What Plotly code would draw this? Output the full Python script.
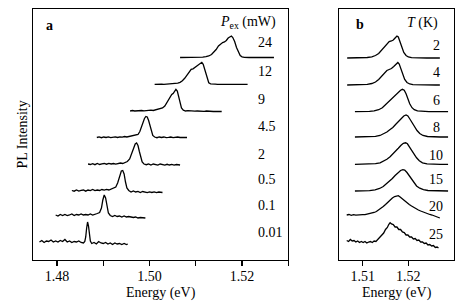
import plotly.graph_objects as go

# ---------------- Panel a: excitation power series ----------------
power_labels = ["24", "12", "9", "4.5", "2", "0.5", "0.1", "0.01"]
power_offsets = [202.5, 175.7, 149.0, 122.5, 95.5, 69.0, 44.0, 17.0]
power_label_y = [217.3, 188.7, 160.7, 133.3, 105.3, 80.3, 54.2, 27.2]

E_p24 = [1.5066, 1.5080, 1.5095, 1.5105, 1.5115, 1.5122, 1.5128, 1.5134, 1.5139, 1.5144,
         1.5149, 1.5154, 1.5158, 1.5162, 1.5166, 1.5170, 1.5174, 1.5177, 1.5180, 1.5184,
         1.5188, 1.5192, 1.5196, 1.5200, 1.5205, 1.5215, 1.5230, 1.5245, 1.5260, 1.5269]
I_p24 = [0.0, 0.0, 0.0, 0.2, 0.4, 0.8, 1.5, 3.0, 5.0, 8.0,
         11.5, 14.0, 15.0, 15.5, 17.0, 19.5, 21.0, 21.5, 20.0, 16.0,
         10.0, 5.0, 2.0, 0.7, 0.2, 0.0, 0.0, 0.0, 0.0, 0.0]

E_p12 = [1.5011, 1.5016, 1.5021, 1.5026, 1.5031, 1.5036, 1.5041, 1.5046, 1.5051, 1.5056,
         1.5061, 1.5066, 1.5071, 1.5076, 1.5081, 1.5086, 1.5090, 1.5094, 1.5098, 1.5102,
         1.5106, 1.5110, 1.5113, 1.5116, 1.5119, 1.5122, 1.5125, 1.5128, 1.5132, 1.5137,
         1.5142, 1.5147, 1.5152, 1.5160, 1.5170, 1.5180, 1.5190, 1.5200, 1.5212]
I_p12 = [0.0, 0.2, 0.0, 0.2, 0.0, 0.2, 0.2, 0.3, 0.5, 0.8,
         1.2, 2.0, 3.5, 6.0, 9.5, 13.0, 15.0, 15.5, 17.0, 18.5,
         19.5, 21.5, 22.0, 20.0, 15.0, 9.0, 4.0, 1.5, 0.5, 0.0,
         0.2, 0.0, 0.1, 0.0, 0.0, 0.0, 0.0, 0.0, 0.0]

E_p9 = [1.4958, 1.4963, 1.4968, 1.4973, 1.4978, 1.4983, 1.4988, 1.4993, 1.4998, 1.5003,
        1.5008, 1.5013, 1.5018, 1.5023, 1.5028, 1.5033, 1.5037, 1.5041, 1.5045, 1.5048,
        1.5051, 1.5054, 1.5057, 1.5060, 1.5063, 1.5066, 1.5069, 1.5073, 1.5078, 1.5083,
        1.5088, 1.5093, 1.5098, 1.5103, 1.5108, 1.5113, 1.5118, 1.5123, 1.5128, 1.5133,
        1.5138, 1.5143, 1.5148, 1.5156]
I_p9 = [0.0, 0.5, 0.0, 0.3, 0.0, 0.5, 0.2, 0.5, 0.3, 0.8,
        0.5, 1.0, 1.5, 2.0, 3.0, 5.0, 8.0, 12.0, 15.0, 16.5,
        17.5, 20.0, 21.7, 20.0, 15.0, 8.0, 3.0, 0.8, 0.0, 0.3,
        0.0, 0.2, -0.2, 0.0, -0.3, 0.0, -0.3, 0.0, -0.3, -0.2,
        -0.5, -0.3, -0.5, -0.5]

E_p4_5 = [1.4886, 1.4891, 1.4896, 1.4901, 1.4906, 1.4911, 1.4916, 1.4921, 1.4926, 1.4931,
          1.4936, 1.4941, 1.4946, 1.4951, 1.4956, 1.4961, 1.4966, 1.4971, 1.4975, 1.4979,
          1.4983, 1.4986, 1.4989, 1.4992, 1.4995, 1.4998, 1.5001, 1.5004, 1.5007, 1.5011,
          1.5016, 1.5021, 1.5026, 1.5031, 1.5036, 1.5041, 1.5046, 1.5051, 1.5056, 1.5061,
          1.5066, 1.5071, 1.5076, 1.5081]
I_p4_5 = [0.0, 0.6, -0.2, 0.5, 0.0, 0.6, -0.1, 0.5, 0.6, 0.0,
          0.6, 0.4, 1.0, 0.5, 1.0, 1.1, 1.5, 2.0, 3.0, 6.0,
          11.0, 16.0, 19.0, 21.0, 20.5, 17.0, 11.0, 5.0, 2.0, 0.5,
          -0.2, 0.5, 0.0, 0.5, -0.2, 0.1, 0.5, -0.1, 0.2, 0.5,
          0.0, 0.2, -0.2, 0.0]

E_p2 = [1.4867, 1.4872, 1.4877, 1.4882, 1.4887, 1.4892, 1.4897, 1.4902, 1.4907, 1.4912,
        1.4917, 1.4922, 1.4927, 1.4932, 1.4937, 1.4942, 1.4947, 1.4952, 1.4957, 1.4961,
        1.4965, 1.4969, 1.4972, 1.4975, 1.4978, 1.4981, 1.4984, 1.4988, 1.4993, 1.4998,
        1.5003, 1.5008, 1.5013, 1.5018, 1.5023, 1.5028, 1.5033, 1.5038, 1.5043, 1.5048,
        1.5053, 1.5058, 1.5066]
I_p2 = [0.5, 0.0, 0.8, -0.2, 1.0, 0.0, 0.6, 1.0, 0.3, 1.1,
        0.5, 1.0, 0.4, 1.1, 1.5, 1.0, 2.0, 3.0, 5.5, 10.0,
        16.0, 20.5, 21.5, 19.0, 13.0, 6.0, 2.5, 0.5, -0.2, 0.6,
        -0.5, 0.5, 0.0, -0.6, 0.5, -0.1, -0.6, 0.2, -0.5, 0.1,
        -0.6, 0.0, -0.5]

E_p0_5 = [1.4832, 1.4837, 1.4842, 1.4847, 1.4852, 1.4857, 1.4862, 1.4867, 1.4872, 1.4877,
          1.4882, 1.4887, 1.4892, 1.4897, 1.4902, 1.4907, 1.4912, 1.4917, 1.4922, 1.4927,
          1.4931, 1.4935, 1.4939, 1.4942, 1.4945, 1.4948, 1.4951, 1.4955, 1.4960, 1.4965,
          1.4970, 1.4975, 1.4980, 1.4985, 1.4990, 1.4995, 1.5000, 1.5005, 1.5010, 1.5015,
          1.5020, 1.5028]
I_p0_5 = [0.5, -0.2, 1.0, -0.1, 0.6, 1.0, -0.2, 1.0, 0.4, 1.5,
          0.4, 1.0, 0.5, 1.5, 0.9, 1.6, 1.0, 2.0, 2.5, 4.0,
          8.0, 15.0, 20.0, 20.5, 17.0, 9.0, 3.0, 0.5, -1.0, 0.0,
          -1.0, -0.4, -1.5, -0.5, -1.0, -1.6, -0.9, -1.5, -0.9, -1.6,
          -1.0, -1.5]

E_p0_1 = [1.4797, 1.4802, 1.4807, 1.4812, 1.4817, 1.4822, 1.4827, 1.4832, 1.4837, 1.4842,
          1.4847, 1.4852, 1.4857, 1.4862, 1.4867, 1.4872, 1.4877, 1.4882, 1.4887, 1.4892,
          1.4896, 1.4899, 1.4902, 1.4905, 1.4908, 1.4911, 1.4915, 1.4920, 1.4925, 1.4930,
          1.4935, 1.4940, 1.4945, 1.4950, 1.4955, 1.4960, 1.4965, 1.4970, 1.4975, 1.4980,
          1.4985, 1.4991]
I_p0_1 = [1.0, 0.0, 1.5, 0.5, 1.5, 0.4, 1.0, 2.0, 0.5, 1.5,
          1.0, 2.0, 1.0, 1.5, 1.0, 2.0, 1.0, 1.5, 2.5, 3.5,
          8.0, 16.0, 21.0, 18.0, 9.0, 3.0, 0.5, -0.5, 0.5, -0.5,
          0.0, -1.0, 0.0, -1.0, -0.5, -1.0, -1.5, -1.0, -2.0, -1.5,
          -2.0, -2.0]

E_p0_01 = [1.4762, 1.4767, 1.4772, 1.4777, 1.4782, 1.4787, 1.4792, 1.4797, 1.4802, 1.4807,
           1.4812, 1.4817, 1.4822, 1.4827, 1.4832, 1.4837, 1.4842, 1.4847, 1.4852, 1.4857,
           1.4860, 1.4862, 1.4864, 1.4866, 1.4868, 1.4870, 1.4872, 1.4875, 1.4880, 1.4885,
           1.4890, 1.4895, 1.4900, 1.4905, 1.4910, 1.4915, 1.4920, 1.4925, 1.4930, 1.4935,
           1.4940, 1.4945, 1.4950, 1.4953]
I_p0_01 = [1.0, 2.5, 0.5, 2.0, 1.5, 3.0, 1.0, 2.0, 1.0, 2.5,
           1.5, 3.5, 1.0, 2.0, 0.5, 1.5, 1.0, 2.0, 0.5, 0.0,
           1.5, 6.0, 15.0, 21.0, 17.0, 7.0, 2.0, -0.5, 0.5, -1.0,
           1.5, 0.0, -0.5, 0.5, -1.0, 0.0, -1.5, 0.0, -1.0, -0.5,
           -1.5, -0.5, -1.5, -1.0]

power_E = [E_p24, E_p12, E_p9, E_p4_5, E_p2, E_p0_5, E_p0_1, E_p0_01]
power_I = [I_p24, I_p12, I_p9, I_p4_5, I_p2, I_p0_5, I_p0_1, I_p0_01]

# ---------------- Panel b: temperature series ----------------
temp_labels = ["2", "4", "6", "8", "10", "15", "20", "25"]
temp_offsets = [202.0, 175.0, 148.3, 123.0, 95.7, 69.0, 45.0, 19.0]
temp_label_y = [214.2, 187.2, 160.0, 132.5, 105.0, 81.0, 53.3, 26.0]

E_t2 = [1.5066, 1.5085, 1.5100, 1.5110, 1.5120, 1.5128, 1.5135, 1.5142, 1.5148, 1.5153,
        1.5158, 1.5163, 1.5167, 1.5171, 1.5175, 1.5178, 1.5182, 1.5186, 1.5190, 1.5195,
        1.5200, 1.5207, 1.5220, 1.5240, 1.5255, 1.5269]
I_t2 = [0.0, 0.0, 0.2, 0.5, 1.2, 2.5, 4.5, 8.0, 11.5, 14.5,
        16.5, 17.0, 18.0, 20.0, 22.0, 21.0, 16.0, 10.0, 5.5, 2.5,
        1.0, 0.3, 0.0, 0.0, 0.0, 0.0]

E_t4 = [1.5066, 1.5085, 1.5100, 1.5110, 1.5120, 1.5128, 1.5135, 1.5142, 1.5148, 1.5153,
        1.5158, 1.5163, 1.5168, 1.5173, 1.5177, 1.5180, 1.5184, 1.5188, 1.5192, 1.5197,
        1.5203, 1.5210, 1.5225, 1.5245, 1.5260, 1.5269]
I_t4 = [0.0, 0.0, 0.2, 0.6, 1.5, 3.0, 5.5, 9.0, 12.5, 14.5,
        15.5, 16.5, 18.5, 21.0, 22.5, 21.0, 16.0, 10.0, 5.5, 2.5,
        1.0, 0.3, 0.0, 0.0, 0.0, 0.0]

E_t6 = [1.5083, 1.5100, 1.5115, 1.5125, 1.5135, 1.5143, 1.5150, 1.5157, 1.5163, 1.5168,
        1.5173, 1.5178, 1.5183, 1.5187, 1.5191, 1.5195, 1.5199, 1.5203, 1.5208, 1.5213,
        1.5220, 1.5230, 1.5245, 1.5265, 1.5287]
I_t6 = [0.0, 0.0, 0.3, 0.8, 2.0, 4.0, 7.0, 10.5, 13.5, 15.5,
        17.5, 19.5, 21.5, 22.4, 21.5, 18.0, 13.0, 8.0, 4.0, 2.0,
        0.8, 0.2, 0.0, 0.0, 0.0]

E_t8 = [1.5083, 1.5100, 1.5115, 1.5128, 1.5138, 1.5146, 1.5153, 1.5160, 1.5166, 1.5172,
        1.5178, 1.5184, 1.5190, 1.5195, 1.5199, 1.5204, 1.5209, 1.5214, 1.5219, 1.5225,
        1.5232, 1.5242, 1.5255, 1.5270, 1.5287]
I_t8 = [0.0, 0.0, 0.2, 0.6, 1.5, 3.0, 5.0, 7.5, 9.5, 12.5,
        15.5, 18.5, 21.0, 22.0, 21.0, 17.5, 13.5, 10.0, 6.5, 3.5,
        1.5, 0.5, 0.1, 0.0, 0.0]

E_t10 = [1.5083, 1.5100, 1.5115, 1.5128, 1.5138, 1.5146, 1.5153, 1.5160, 1.5166, 1.5172,
         1.5178, 1.5184, 1.5189, 1.5194, 1.5198, 1.5203, 1.5208, 1.5213, 1.5218, 1.5224,
         1.5231, 1.5241, 1.5255, 1.5270, 1.5287]
I_t10 = [0.0, 0.0, 0.2, 0.6, 1.5, 3.0, 5.0, 7.5, 10.0, 13.0,
         16.0, 19.0, 21.0, 21.5, 20.5, 17.0, 13.0, 9.5, 6.5, 3.5,
         1.5, 0.5, 0.1, 0.0, 0.0]

E_t15 = [1.5083, 1.5100, 1.5115, 1.5127, 1.5137, 1.5145, 1.5152, 1.5159, 1.5165, 1.5171,
         1.5177, 1.5183, 1.5188, 1.5192, 1.5197, 1.5202, 1.5207, 1.5212, 1.5218, 1.5225,
         1.5233, 1.5243, 1.5258, 1.5272, 1.5287]
I_t15 = [0.0, 0.1, 0.4, 1.2, 2.5, 4.5, 7.0, 10.0, 12.5, 15.5,
         18.5, 20.5, 21.4, 21.0, 18.5, 15.0, 11.5, 8.0, 5.0, 2.8,
         1.3, 0.5, 0.1, 0.0, 0.0]

E_t20 = [1.5065, 1.5070, 1.5075, 1.5080, 1.5085, 1.5090, 1.5095, 1.5100, 1.5105, 1.5110,
         1.5115, 1.5120, 1.5125, 1.5130, 1.5135, 1.5140, 1.5145, 1.5150, 1.5155, 1.5160,
         1.5165, 1.5170, 1.5175, 1.5178, 1.5182, 1.5187, 1.5192, 1.5197, 1.5202, 1.5207,
         1.5212, 1.5217, 1.5222, 1.5227, 1.5232, 1.5237, 1.5242, 1.5247, 1.5252, 1.5257,
         1.5262, 1.5266, 1.5269]
I_t20 = [0.0, 0.5, -0.3, 0.3, -0.2, 0.2, 0.0, 0.4, 0.3, 0.8,
         1.2, 1.8, 2.5, 3.5, 5.0, 6.5, 8.5, 10.5, 13.0, 15.0,
         17.0, 18.5, 19.5, 19.3, 18.0, 16.0, 14.0, 12.0, 10.5, 9.0,
         7.5, 6.0, 5.0, 4.0, 3.0, 2.0, 1.2, 0.5, 0.0, -0.8,
         -1.5, -2.5, -3.0]

E_t25 = [1.5065, 1.5069, 1.5073, 1.5077, 1.5081, 1.5085, 1.5089, 1.5093, 1.5097, 1.5101,
         1.5105, 1.5109, 1.5113, 1.5117, 1.5121, 1.5125, 1.5129, 1.5132, 1.5134, 1.5138,
         1.5142, 1.5146, 1.5150, 1.5154, 1.5157, 1.5160, 1.5163, 1.5167, 1.5171, 1.5175,
         1.5179, 1.5183, 1.5187, 1.5191, 1.5195, 1.5199, 1.5203, 1.5207, 1.5211, 1.5215,
         1.5219, 1.5223, 1.5227, 1.5231, 1.5235, 1.5239, 1.5243, 1.5247, 1.5251, 1.5255,
         1.5259, 1.5263, 1.5266]
I_t25 = [0.5, -0.5, 1.5, 0.0, 0.5, -1.0, 0.0, -1.5, -0.5, -1.5,
         -0.5, -2.0, -1.0, -0.5, -1.5, 0.0, -0.5, 1.0, 3.0, 4.0,
         6.5, 8.0, 11.5, 13.5, 16.5, 18.3, 17.0, 16.5, 14.0, 14.0,
         11.5, 11.5, 9.0, 8.5, 6.0, 6.0, 4.0, 4.0, 2.0, 2.5,
         0.5, 1.0, -1.0, -1.0, -2.5, -2.0, -4.0, -3.5, -5.0, -4.5,
         -6.5, -6.0, -7.0]

temp_E = [E_t2, E_t4, E_t6, E_t8, E_t10, E_t15, E_t20, E_t25]
temp_I = [I_t2, I_t4, I_t6, I_t8, I_t10, I_t15, I_t20, I_t25]

# ---------------- Figure ----------------
FONT = "Liberation Serif, Times New Roman, serif"
fig = go.Figure()

for E, I, off in zip(power_E, power_I, power_offsets):
    fig.add_trace(go.Scatter(x=E, y=[v + off for v in I], mode="lines",
                             line=dict(color="black", width=1.3), xaxis="x", yaxis="y",
                             showlegend=False, hoverinfo="skip"))
for E, I, off in zip(temp_E, temp_I, temp_offsets):
    fig.add_trace(go.Scatter(x=E, y=[v + off for v in I], mode="lines",
                             line=dict(color="black", width=1.3), xaxis="x2", yaxis="y2",
                             showlegend=False, hoverinfo="skip"))

ann = []
for lab, yy in zip(power_labels, power_label_y):
    ann.append(dict(x=1.5230, y=yy, xref="x", yref="y", text=lab, showarrow=False,
                    xanchor="left", yanchor="middle", font=dict(size=14, family=FONT, color="black")))
for lab, yy in zip(temp_labels, temp_label_y):
    ann.append(dict(x=1.52615, y=yy, xref="x2", yref="y2", text=lab, showarrow=False,
                    xanchor="center", yanchor="middle", font=dict(size=14, family=FONT, color="black")))
ann.append(dict(x=1.5278, y=237.5, xref="x", yref="y", text="<i>P</i><sub>ex</sub> (mW)",
                showarrow=False, xanchor="right", yanchor="middle",
                font=dict(size=14, family=FONT, color="black")))
ann.append(dict(x=1.5269, y=237.5, xref="x2", yref="y2", text="<i>T</i> (K)",
                showarrow=False, xanchor="right", yanchor="middle",
                font=dict(size=14, family=FONT, color="black")))
ann.append(dict(x=1.4772, y=235, xref="x", yref="y", text="<b>a</b>", showarrow=False,
                xanchor="left", yanchor="middle", font=dict(size=14, family=FONT, color="black")))
ann.append(dict(x=1.5081, y=235.8, xref="x2", yref="y2", text="<b>b</b>", showarrow=False,
                xanchor="left", yanchor="middle", font=dict(size=14, family=FONT, color="black")))
ann.append(dict(x=-0.026, y=0.5, xref="paper", yref="paper", text="PL Intensity",
                showarrow=False, textangle=-90, xanchor="center", yanchor="middle",
                font=dict(size=14, family=FONT, color="black")))

axis_common = dict(showline=True, linecolor="black", linewidth=1.2, mirror=True,
                   ticks="outside", ticklen=5, tickwidth=1.2, tickcolor="black",
                   showgrid=False, zeroline=False, ticklabelstandoff=-2,
                   tickfont=dict(size=14, family=FONT, color="black"))
yaxis_common = dict(showline=True, linecolor="black", linewidth=1.2, mirror=True,
                    ticks="", showticklabels=False, showgrid=False, zeroline=False,
                    range=[0, 251], fixedrange=True)

fig.update_layout(
    width=463, height=307,
    margin=dict(l=33, r=9, t=9, b=47),
    paper_bgcolor="white", plot_bgcolor="white",
    font=dict(family=FONT, size=14, color="black"),
    xaxis=dict(domain=[0, 0.6064], range=[1.4748, 1.53],
               tickmode="linear", tick0=1.48, dtick=0.02, tickformat=".2f",
               minor=dict(ticks="outside", ticklen=5, tickwidth=1.2, tickcolor="black",
                          tickmode="linear", tick0=1.48, dtick=0.01, showgrid=False),
               title=dict(text="Energy (eV)", standoff=4,
                          font=dict(size=14, family=FONT, color="black")),
               **axis_common),
    xaxis2=dict(domain=[0.7276, 1], range=[1.50488, 1.530],
                tickvals=[1.51, 1.52], ticktext=["1.51", "1.52"],
                title=dict(text="Energy (eV)", standoff=4,
                           font=dict(size=14, family=FONT, color="black")),
                **axis_common),
    yaxis=dict(anchor="x", **yaxis_common),
    yaxis2=dict(anchor="x2", **yaxis_common),
    annotations=ann,
)

fig.write_html("out.html",
               config={"displayModeBar": False, "staticPlot": True},
               post_script="document.body.style.margin='0px';document.body.style.overflow='hidden';")
